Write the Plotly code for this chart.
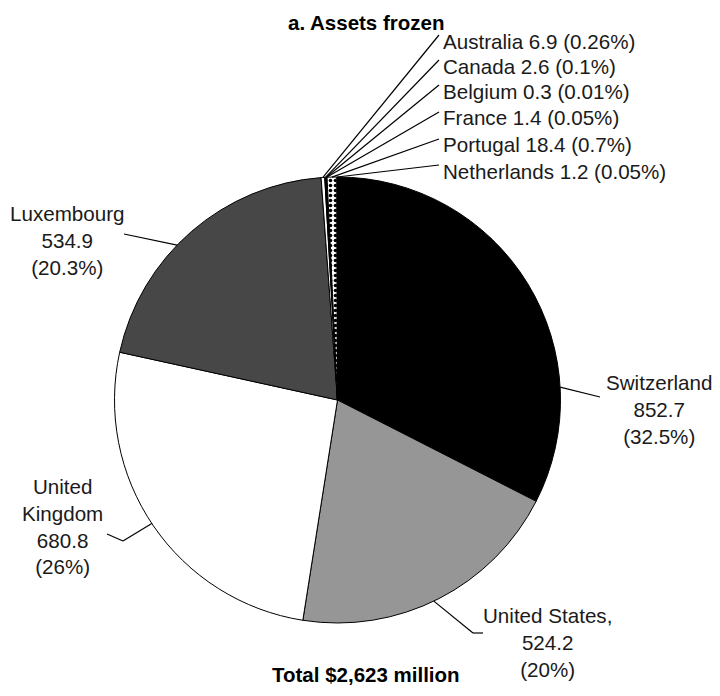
import math
import plotly.graph_objects as go

# Beträge in Mio. USD, im Uhrzeigersinn ab 12 Uhr
countries = ["Switzerland", "United States", "United Kingdom", "Luxembourg",
             "Australia", "Canada", "Belgium", "France", "Portugal", "Netherlands"]
amounts = [852.7, 524.2, 680.8, 534.9, 6.9, 2.6, 0.3, 1.4, 18.4, 1.2]
shares = ["32.5%", "20%", "26%", "20.3%", "0.26%", "0.1%", "0.01%", "0.05%", "0.7%", "0.05%"]
colors = ["#000000", "#969696", "#ffffff", "#474747",
          "#ffffff", "#000000", "#ffffff", "#000000", "#ffffff", "#ffffff"]
patterns = ["", "", "", "", "", "", "", "", ".", ""]

# Seite hat 8px Rand -> Figur etwas kleiner, Koordinaten im Fensterraster
OFF = 8
W, H = 720 - 2 * OFF, 696 - 2 * OFF
CX, CY, R = 337.5, 400, 223
FONT = "Liberation Sans, Arial, sans-serif"
TXT = "#1a1a1a"


def px(x, y):
    return (x - OFF) / W, 1 - (y - OFF) / H


def edge(angle_deg):
    a = math.radians(angle_deg)
    return CX + R * math.sin(a), CY - R * math.cos(a)


x_lo, y_hi = px(CX - R, CY - R)
x_hi, y_lo = px(CX + R, CY + R)

fig = go.Figure(go.Pie(
    labels=countries,
    values=amounts,
    sort=False,
    direction="clockwise",
    rotation=0,
    textinfo="none",
    hoverinfo="label+value",
    marker=dict(colors=colors,
                line=dict(color="black", width=1),
                pattern=dict(shape=patterns, fgcolor="black", bgcolor="white",
                             size=5, solidity=0.4)),
    domain=dict(x=[x_lo, x_hi], y=[y_lo, y_hi]),
    showlegend=False,
))

shapes = []
annotations = []


def line(points):
    for (x0, y0), (x1, y1) in zip(points[:-1], points[1:]):
        a0, b0 = px(x0, y0)
        a1, b1 = px(x1, y1)
        shapes.append(dict(type="line", xref="paper", yref="paper",
                           x0=a0, y0=b0, x1=a1, y1=b1,
                           line=dict(color="black", width=1.2)))


def label(text, x, y, anchor="center"):
    ax, ay = px(x, y)
    annotations.append(dict(text=text, x=ax, y=ay, xref="paper", yref="paper",
                            xanchor=anchor, yanchor="middle", showarrow=False,
                            align="center", font=dict(family=FONT, size=20.6, color=TXT)))


# große Segmente: Beschriftung links/rechts mit Führungslinie
big = {
    "Switzerland": dict(ang=86.7, pts=[(600, 397)], pos=(659, 409), name="Switzerland"),
    "United States": dict(ang=154.4, pts=[(473, 633), (483, 633)], pos=(547, 642), name="United States,"),
    "United Kingdom": dict(ang=236.4, pts=[(123, 541), (107, 534)], pos=(62, 526), name="United<br>Kingdom"),
    "Luxembourg": dict(ang=314.0, pts=[(124, 234)], pos=(67, 240), name="Luxembourg"),
}
for i, c in enumerate(countries[:4]):
    b = big[c]
    line([edge(b["ang"])] + b["pts"])
    label(f"{b['name']}<br>{amounts[i]}<br>({shares[i]})", *b["pos"])

# kleine Segmente oben: Linien vom Segment zu gestapelten Texten
total = sum(amounts)
cum = sum(amounts[:4])
small_y = [41, 66, 91, 118, 145, 171]
for k, i in enumerate(range(4, len(countries))):
    mid = (cum + amounts[i] / 2) / total * 360
    cum += amounts[i]
    x0, y0 = edge(mid)
    line([(x0, y0), (439, small_y[k] - 6)])
    label(f"{countries[i]} {amounts[i]} ({shares[i]})", 441, small_y[k], anchor="left")

# Titel und Summe (etwas vom Rand weg, damit nichts abgeschnitten wird)
for text, y in [("<b>a. Assets frozen</b>", 22), ("<b>Total $2,623 million</b>", 674)]:
    tx, ty = px(366, y)
    annotations.append(dict(text=text, x=tx, y=ty, xref="paper", yref="paper",
                            xanchor="center", yanchor="middle", showarrow=False,
                            font=dict(family=FONT, size=20.5, color="black")))

fig.update_layout(
    width=W, height=H,
    margin=dict(l=0, r=0, t=0, b=0),
    paper_bgcolor="white",
    plot_bgcolor="white",
    shapes=shapes,
    annotations=annotations,
)

fig.write_html("out.html")
